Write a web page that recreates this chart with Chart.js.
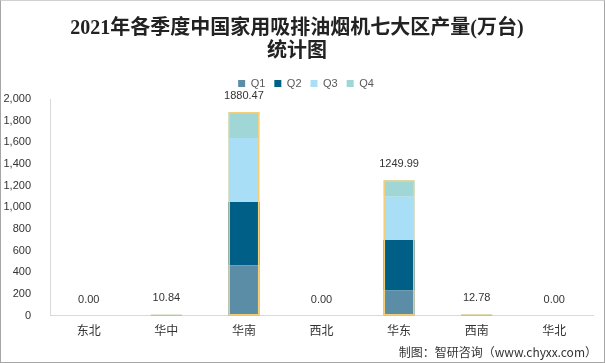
<!DOCTYPE html>
<html>
<head>
<meta charset="utf-8">
<script src="https://cdn.jsdelivr.net/npm/chart.js@4/dist/chart.umd.min.js"></script>
<style>
  html, body { margin: 0; padding: 0; background: #fff; }
  #wrap {
    position: relative; width: 605px; height: 363px;
    box-sizing: border-box; border: 1px solid #a6a6a6; border-top-color: #d0d0d0;
  }
  #source {
    position: absolute; right: 7px; bottom: 2px;
    font: 12px "Noto Sans CJK SC", sans-serif; color: #333;
  }
</style>
</head>
<body>
<div id="wrap">
  <canvas id="chart" width="603" height="361"></canvas>
  <div id="source">制图：智研咨询（www.chyxx.com）</div>
</div>
<script>
// 七大区
const regions = ['东北', '华中', '华南', '西北', '华东', '西南', '华北'];
// 各季度产量（万台）
const q1 = [0, 2.6, 464, 0, 232, 3.1, 0];
const q2 = [0, 2.8, 585, 0, 467, 3.3, 0];
const q3 = [0, 2.9, 592, 0, 399, 3.3, 0];
const q4 = [0, 2.54, 239.47, 0, 151.99, 3.08, 0];
// 合计（柱顶标签）
const totals = [0, 10.84, 1880.47, 0, 1249.99, 12.78, 0];
const yTicks = [0, 200, 400, 600, 800, 1000, 1200, 1400, 1600, 1800, 2000];

const qColors = ['#5b8ea6', '#005f86', '#a8dff7', '#a0d6d6'];

// draw totals above each bar
const totalLabels = {
    id: 'totalLabels',
    afterLayout(chart) {
        // legend sits a little right of centre in the original
        chart.legend.left += 9;
        chart.legend.right += 9;
    },
    afterDatasetsDraw(chart) {
        const ctx = chart.ctx;
        const meta = chart.getDatasetMeta(4);
        ctx.save();
        ctx.font = '11px "Liberation Sans", "Noto Sans CJK SC", sans-serif';
        ctx.fillStyle = '#333';
        ctx.textAlign = 'center';
        ctx.textBaseline = 'middle';
        meta.data.forEach((bar, i) => {
            ctx.fillText(totals[i].toFixed(2), bar.x, bar.y - 16);
        });
        ctx.restore();
    }
};

const ctx = document.getElementById('chart').getContext('2d');
new Chart(ctx, {
    type: 'bar',
    data: {
        labels: regions,
        datasets: [
            { label: 'Q1', data: q1, backgroundColor: qColors[0], order: 1 },
            { label: 'Q2', data: q2, backgroundColor: qColors[1], order: 1 },
            { label: 'Q3', data: q3, backgroundColor: qColors[2], order: 1 },
            { label: 'Q4', data: q4, backgroundColor: qColors[3], order: 1 },
            {
                label: '合计', data: totals, yAxisID: 'y2', order: 0,
                backgroundColor: 'rgba(0,0,0,0)', borderColor: '#f5cf78',
                borderWidth: c => (totals[c.dataIndex] > 0 ? 1.5 : 0),
                borderSkipped: false
            }
        ]
    },
    options: {
        responsive: false,
        animation: false,
        datasets: { bar: { barPercentage: 0.4, categoryPercentage: 1 } },
        layout: { padding: { left: 0, right: 11, top: 0, bottom: 24 } },
        scales: {
            x: {
                stacked: true,
                grid: { display: false },
                border: { color: '#d9d9d9' },
                ticks: {
                    color: '#333', padding: 0,
                    font: { size: 12, family: '"Noto Sans CJK SC", sans-serif' }
                }
            },
            y: {
                stacked: true, min: 0, max: 2000,
                afterBuildTicks: axis => { axis.ticks = yTicks.map(v => ({ value: v })); },
                afterFit: axis => { axis.width = 49; },
                grid: { display: false },
                border: { color: '#d9d9d9' },
                ticks: {
                    color: '#333', padding: 11,
                    font: { size: 11, family: '"Liberation Sans", sans-serif' },
                    callback: v => v.toLocaleString('en-US')
                }
            },
            y2: { display: false, min: 0, max: 2000 }
        },
        plugins: {
            title: {
                display: true,
                text: ['2021年各季度中国家用吸排油烟机七大区产量(万台)', '统计图'],
                color: '#222',
                font: { size: 20, weight: 'bold', family: '"Liberation Serif", "Noto Sans CJK SC", serif', lineHeight: 1.15 },
                padding: { top: 16, bottom: 6 }
            },
            legend: {
                position: 'top',
                labels: {
                    boxWidth: 7, boxHeight: 7, color: '#595959',
                    font: { size: 11, family: '"Liberation Sans", sans-serif' },
                    padding: 9,
                    filter: item => item.datasetIndex < 4
                }
            },
            tooltip: { enabled: false }
        }
    },
    plugins: [totalLabels]
});
</script>
</body>
</html>
